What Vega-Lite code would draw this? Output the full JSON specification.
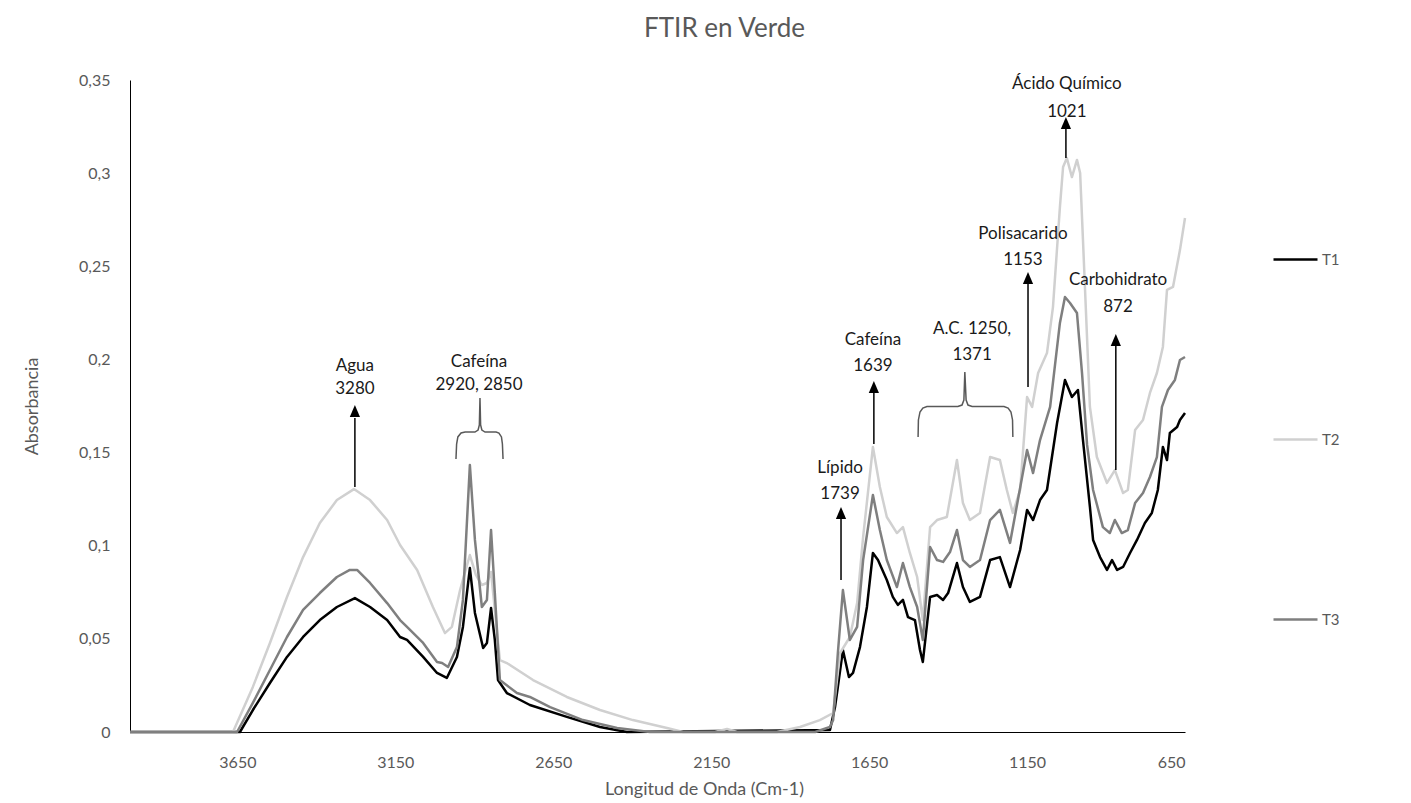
{
  "$schema": "https://vega.github.io/schema/vega-lite/v6.json",
  "width": 1055,
  "height": 652,
  "autosize": {"type": "none"},
  "padding": {"left": 130, "top": 80, "right": 226, "bottom": 71},
  "background": "white",
  "config": {
    "view": {"stroke": null},
    "font": "Lato",
    "text": {"font": "Lato"}
  },
  "title": {
    "text": "FTIR en Verde",
    "fontSize": 26,
    "font": "Lato",
    "fontWeight": "normal",
    "color": "#595959",
    "anchor": "middle",
    "dx": 67,
    "offset": 30
  },
  "datasets": {
    "spectra": [
      {"s":"T1","x":3990,"y":0},{"s":"T1","x":3642,"y":0},{"s":"T1","x":3601,"y":0.0118},{"s":"T1","x":3547,"y":0.0263},{"s":"T1","x":3493,"y":0.0403},{"s":"T1","x":3442,"y":0.051},{"s":"T1","x":3389,"y":0.0601},{"s":"T1","x":3335,"y":0.0671},{"s":"T1","x":3278,"y":0.0719},{"s":"T1","x":3230,"y":0.0671},{"s":"T1","x":3176,"y":0.0601},{"s":"T1","x":3135,"y":0.051},{"s":"T1","x":3113,"y":0.0494},{"s":"T1","x":3062,"y":0.0403},{"s":"T1","x":3018,"y":0.0317},{"s":"T1","x":2987,"y":0.029},{"s":"T1","x":2955,"y":0.0403},{"s":"T1","x":2936,"y":0.0564},{"s":"T1","x":2914,"y":0.088},{"s":"T1","x":2898,"y":0.0639},{"s":"T1","x":2872,"y":0.0451},{"s":"T1","x":2860,"y":0.0478},{"s":"T1","x":2847,"y":0.0666},{"s":"T1","x":2835,"y":0.0494},{"s":"T1","x":2825,"y":0.0279},{"s":"T1","x":2797,"y":0.0209},{"s":"T1","x":2724,"y":0.0145},{"s":"T1","x":2607,"y":0.0081},{"s":"T1","x":2502,"y":0.0027},{"s":"T1","x":2417,"y":0},{"s":"T1","x":1774,"y":0.0011},{"s":"T1","x":1758,"y":0.0134},{"s":"T1","x":1749,"y":0.0242},{"s":"T1","x":1733,"y":0.044},{"s":"T1","x":1714,"y":0.0295},{"s":"T1","x":1701,"y":0.0317},{"s":"T1","x":1679,"y":0.0456},{"s":"T1","x":1657,"y":0.0671},{"s":"T1","x":1638,"y":0.0961},{"s":"T1","x":1622,"y":0.0923},{"s":"T1","x":1594,"y":0.0816},{"s":"T1","x":1575,"y":0.0725},{"s":"T1","x":1559,"y":0.0682},{"s":"T1","x":1543,"y":0.0709},{"s":"T1","x":1527,"y":0.0617},{"s":"T1","x":1505,"y":0.0601},{"s":"T1","x":1489,"y":0.044},{"s":"T1","x":1480,"y":0.0376},{"s":"T1","x":1457,"y":0.0725},{"s":"T1","x":1435,"y":0.0735},{"s":"T1","x":1416,"y":0.0709},{"s":"T1","x":1400,"y":0.0746},{"s":"T1","x":1372,"y":0.0907},{"s":"T1","x":1353,"y":0.0778},{"s":"T1","x":1331,"y":0.0698},{"s":"T1","x":1299,"y":0.0725},{"s":"T1","x":1267,"y":0.0923},{"s":"T1","x":1236,"y":0.0939},{"s":"T1","x":1204,"y":0.0778},{"s":"T1","x":1172,"y":0.0977},{"s":"T1","x":1150,"y":0.1192},{"s":"T1","x":1131,"y":0.1138},{"s":"T1","x":1109,"y":0.1245},{"s":"T1","x":1087,"y":0.1299},{"s":"T1","x":1055,"y":0.1659},{"s":"T1","x":1030,"y":0.189},{"s":"T1","x":1008,"y":0.1798},{"s":"T1","x":989,"y":0.1836},{"s":"T1","x":973,"y":0.1567},{"s":"T1","x":951,"y":0.1208},{"s":"T1","x":941,"y":0.1031},{"s":"T1","x":919,"y":0.0939},{"s":"T1","x":897,"y":0.087},{"s":"T1","x":881,"y":0.0923},{"s":"T1","x":865,"y":0.087},{"s":"T1","x":846,"y":0.0886},{"s":"T1","x":824,"y":0.0961},{"s":"T1","x":802,"y":0.1031},{"s":"T1","x":777,"y":0.1122},{"s":"T1","x":755,"y":0.1176},{"s":"T1","x":736,"y":0.1299},{"s":"T1","x":720,"y":0.153},{"s":"T1","x":707,"y":0.146},{"s":"T1","x":698,"y":0.1605},{"s":"T1","x":675,"y":0.1637},{"s":"T1","x":666,"y":0.1675},{"s":"T1","x":650,"y":0.1712},
      {"s":"T2","x":3990,"y":0},{"s":"T2","x":3664,"y":0},{"s":"T2","x":3601,"y":0.0242},{"s":"T2","x":3547,"y":0.0478},{"s":"T2","x":3493,"y":0.0725},{"s":"T2","x":3442,"y":0.0939},{"s":"T2","x":3389,"y":0.1122},{"s":"T2","x":3335,"y":0.1245},{"s":"T2","x":3281,"y":0.1304},{"s":"T2","x":3230,"y":0.1245},{"s":"T2","x":3176,"y":0.1138},{"s":"T2","x":3135,"y":0.1004},{"s":"T2","x":3081,"y":0.087},{"s":"T2","x":3031,"y":0.0671},{"s":"T2","x":2993,"y":0.0531},{"s":"T2","x":2971,"y":0.0564},{"s":"T2","x":2945,"y":0.0762},{"s":"T2","x":2923,"y":0.0896},{"s":"T2","x":2914,"y":0.095},{"s":"T2","x":2895,"y":0.0843},{"s":"T2","x":2876,"y":0.0789},{"s":"T2","x":2860,"y":0.08},{"s":"T2","x":2847,"y":0.0859},{"s":"T2","x":2835,"y":0.0655},{"s":"T2","x":2819,"y":0.0386},{"s":"T2","x":2797,"y":0.037},{"s":"T2","x":2714,"y":0.0279},{"s":"T2","x":2607,"y":0.0188},{"s":"T2","x":2502,"y":0.0118},{"s":"T2","x":2398,"y":0.0064},{"s":"T2","x":2290,"y":0.0021},{"s":"T2","x":2239,"y":0},{"s":"T2","x":2138,"y":0},{"s":"T2","x":2100,"y":0.0016},{"s":"T2","x":2068,"y":0},{"s":"T2","x":1942,"y":0},{"s":"T2","x":1869,"y":0.0027},{"s":"T2","x":1806,"y":0.0064},{"s":"T2","x":1764,"y":0.0102},{"s":"T2","x":1742,"y":0.0424},{"s":"T2","x":1711,"y":0.051},{"s":"T2","x":1688,"y":0.0692},{"s":"T2","x":1669,"y":0.1047},{"s":"T2","x":1638,"y":0.153},{"s":"T2","x":1616,"y":0.1315},{"s":"T2","x":1594,"y":0.1154},{"s":"T2","x":1562,"y":0.1068},{"s":"T2","x":1543,"y":0.11},{"s":"T2","x":1521,"y":0.0961},{"s":"T2","x":1498,"y":0.0832},{"s":"T2","x":1480,"y":0.0601},{"s":"T2","x":1457,"y":0.11},{"s":"T2","x":1435,"y":0.1138},{"s":"T2","x":1404,"y":0.1154},{"s":"T2","x":1372,"y":0.146},{"s":"T2","x":1353,"y":0.1229},{"s":"T2","x":1331,"y":0.1138},{"s":"T2","x":1299,"y":0.1176},{"s":"T2","x":1267,"y":0.1476},{"s":"T2","x":1236,"y":0.146},{"s":"T2","x":1214,"y":0.1299},{"s":"T2","x":1195,"y":0.1176},{"s":"T2","x":1172,"y":0.1299},{"s":"T2","x":1150,"y":0.1798},{"s":"T2","x":1134,"y":0.1745},{"s":"T2","x":1115,"y":0.1927},{"s":"T2","x":1087,"y":0.2034},{"s":"T2","x":1068,"y":0.2281},{"s":"T2","x":1046,"y":0.2818},{"s":"T2","x":1036,"y":0.3033},{"s":"T2","x":1024,"y":0.3081},{"s":"T2","x":1008,"y":0.2979},{"s":"T2","x":992,"y":0.3071},{"s":"T2","x":982,"y":0.3001},{"s":"T2","x":973,"y":0.2641},{"s":"T2","x":951,"y":0.1745},{"s":"T2","x":929,"y":0.1476},{"s":"T2","x":897,"y":0.1337},{"s":"T2","x":872,"y":0.1406},{"s":"T2","x":846,"y":0.1283},{"s":"T2","x":831,"y":0.1299},{"s":"T2","x":808,"y":0.1621},{"s":"T2","x":783,"y":0.1675},{"s":"T2","x":761,"y":0.182},{"s":"T2","x":739,"y":0.1927},{"s":"T2","x":720,"y":0.2067},{"s":"T2","x":707,"y":0.2373},{"s":"T2","x":688,"y":0.2389},{"s":"T2","x":666,"y":0.2587},{"s":"T2","x":650,"y":0.2759},
      {"s":"T3","x":3990,"y":0},{"s":"T3","x":3651,"y":0},{"s":"T3","x":3601,"y":0.0156},{"s":"T3","x":3547,"y":0.0333},{"s":"T3","x":3493,"y":0.051},{"s":"T3","x":3442,"y":0.0655},{"s":"T3","x":3389,"y":0.0746},{"s":"T3","x":3335,"y":0.0832},{"s":"T3","x":3294,"y":0.087},{"s":"T3","x":3271,"y":0.087},{"s":"T3","x":3230,"y":0.08},{"s":"T3","x":3176,"y":0.0692},{"s":"T3","x":3135,"y":0.0601},{"s":"T3","x":3113,"y":0.0564},{"s":"T3","x":3062,"y":0.0478},{"s":"T3","x":3018,"y":0.0376},{"s":"T3","x":3002,"y":0.037},{"s":"T3","x":2983,"y":0.0349},{"s":"T3","x":2955,"y":0.0456},{"s":"T3","x":2936,"y":0.0709},{"s":"T3","x":2914,"y":0.1433},{"s":"T3","x":2898,"y":0.1031},{"s":"T3","x":2876,"y":0.0671},{"s":"T3","x":2860,"y":0.0709},{"s":"T3","x":2847,"y":0.1084},{"s":"T3","x":2835,"y":0.0746},{"s":"T3","x":2819,"y":0.0279},{"s":"T3","x":2765,"y":0.0209},{"s":"T3","x":2724,"y":0.0188},{"s":"T3","x":2660,"y":0.0134},{"s":"T3","x":2556,"y":0.0064},{"s":"T3","x":2448,"y":0.0021},{"s":"T3","x":2344,"y":0},{"s":"T3","x":1821,"y":0},{"s":"T3","x":1774,"y":0.0027},{"s":"T3","x":1764,"y":0.0064},{"s":"T3","x":1749,"y":0.0424},{"s":"T3","x":1733,"y":0.0762},{"s":"T3","x":1711,"y":0.0494},{"s":"T3","x":1688,"y":0.0564},{"s":"T3","x":1669,"y":0.0923},{"s":"T3","x":1638,"y":0.1272},{"s":"T3","x":1616,"y":0.1084},{"s":"T3","x":1594,"y":0.0923},{"s":"T3","x":1562,"y":0.0778},{"s":"T3","x":1543,"y":0.0907},{"s":"T3","x":1521,"y":0.0778},{"s":"T3","x":1498,"y":0.0671},{"s":"T3","x":1480,"y":0.0494},{"s":"T3","x":1457,"y":0.0993},{"s":"T3","x":1435,"y":0.0923},{"s":"T3","x":1416,"y":0.0913},{"s":"T3","x":1394,"y":0.0966},{"s":"T3","x":1372,"y":0.1084},{"s":"T3","x":1353,"y":0.0923},{"s":"T3","x":1331,"y":0.0886},{"s":"T3","x":1299,"y":0.0923},{"s":"T3","x":1267,"y":0.1138},{"s":"T3","x":1236,"y":0.1192},{"s":"T3","x":1204,"y":0.1015},{"s":"T3","x":1179,"y":0.1245},{"s":"T3","x":1150,"y":0.1514},{"s":"T3","x":1131,"y":0.139},{"s":"T3","x":1109,"y":0.1567},{"s":"T3","x":1077,"y":0.1745},{"s":"T3","x":1046,"y":0.2196},{"s":"T3","x":1030,"y":0.2335},{"s":"T3","x":1014,"y":0.2303},{"s":"T3","x":992,"y":0.2249},{"s":"T3","x":976,"y":0.1927},{"s":"T3","x":960,"y":0.1541},{"s":"T3","x":941,"y":0.1299},{"s":"T3","x":910,"y":0.11},{"s":"T3","x":888,"y":0.1068},{"s":"T3","x":872,"y":0.1138},{"s":"T3","x":850,"y":0.1068},{"s":"T3","x":831,"y":0.1084},{"s":"T3","x":808,"y":0.1229},{"s":"T3","x":783,"y":0.1283},{"s":"T3","x":761,"y":0.1369},{"s":"T3","x":739,"y":0.1476},{"s":"T3","x":723,"y":0.1745},{"s":"T3","x":704,"y":0.1836},{"s":"T3","x":682,"y":0.189},{"s":"T3","x":666,"y":0.1997},{"s":"T3","x":650,"y":0.2013}
    ],
    "braces": [
      {"b":"A","i":1,"x":2958,"y":0.1465},{"b":"A","i":2,"x":2956,"y":0.1546},{"b":"A","i":3,"x":2952,"y":0.1584},{"b":"A","i":4,"x":2942,"y":0.1605},{"b":"A","i":5,"x":2929,"y":0.161},{"b":"A","i":6,"x":2898,"y":0.161},{"b":"A","i":7,"x":2888,"y":0.1621},{"b":"A","i":8,"x":2884,"y":0.1648},{"b":"A","i":9,"x":2882,"y":0.1793},{"b":"A","i":10,"x":2880,"y":0.1648},{"b":"A","i":11,"x":2876,"y":0.1621},{"b":"A","i":12,"x":2866,"y":0.161},{"b":"A","i":13,"x":2831,"y":0.161},{"b":"A","i":14,"x":2822,"y":0.1605},{"b":"A","i":15,"x":2814,"y":0.1584},{"b":"A","i":16,"x":2811,"y":0.1546},{"b":"A","i":17,"x":2809,"y":0.1465},
      {"b":"B","i":1,"x":1495,"y":0.1584},{"b":"B","i":2,"x":1494,"y":0.1675},{"b":"B","i":3,"x":1489,"y":0.1718},{"b":"B","i":4,"x":1480,"y":0.1739},{"b":"B","i":5,"x":1467,"y":0.1747},{"b":"B","i":6,"x":1369,"y":0.1747},{"b":"B","i":7,"x":1356,"y":0.1755},{"b":"B","i":8,"x":1350,"y":0.1782},{"b":"B","i":9,"x":1347,"y":0.1932},{"b":"B","i":10,"x":1343,"y":0.1782},{"b":"B","i":11,"x":1337,"y":0.1755},{"b":"B","i":12,"x":1324,"y":0.1747},{"b":"B","i":13,"x":1223,"y":0.1747},{"b":"B","i":14,"x":1210,"y":0.1739},{"b":"B","i":15,"x":1201,"y":0.1718},{"b":"B","i":16,"x":1196,"y":0.1675},{"b":"B","i":17,"x":1195,"y":0.1584}
    ],
    "arrows": [
      {"x":3278,"y":0.1315,"y2":0.1686,"hy":0.1723},
      {"x":1635,"y":0.1546,"y2":0.183,"hy":0.1852},
      {"x":1739,"y":0.0816,"y2":0.1149,"hy":0.1176},
      {"x":1147,"y":0.1852,"y2":0.2416,"hy":0.2437},
      {"x":1027,"y":0.3081,"y2":0.3253,"hy":0.3269},
      {"x":869,"y":0.1406,"y2":0.2083,"hy":0.2104}
    ],
    "labels": [
      {"t":"Agua","x":3278,"y":0.1965},
      {"t":"3280","x":3278,"y":0.1841},
      {"t":"Cafeína","x":2885,"y":0.1986},
      {"t":"2920, 2850","x":2885,"y":0.1863},
      {"t":"Lípido","x":1742,"y":0.1417},
      {"t":"1739","x":1742,"y":0.1278},
      {"t":"Cafeína","x":1638,"y":0.2104},
      {"t":"1639","x":1638,"y":0.1965},
      {"t":"A.C. 1250,","x":1324,"y":0.2163},
      {"t":"1371","x":1324,"y":0.2024},
      {"t":"Polisacarido","x":1163,"y":0.2673},
      {"t":"1153","x":1163,"y":0.2534},
      {"t":"Ácido Químico","x":1024,"y":0.3478},
      {"t":"1021","x":1024,"y":0.3328},
      {"t":"Carbohidrato","x":862,"y":0.2426},
      {"t":"872","x":862,"y":0.2281}
    ]
  },
  "encoding": {
    "x": {
      "field": "x",
      "type": "quantitative",
      "scale": {"domain": [650, 3990], "reverse": true, "nice": false, "zero": false},
      "axis": {
        "title": "Longitud de Onda (Cm-1)",
        "values": [3650, 3150, 2650, 2150, 1650, 1150, 650],
        "format": "d",
        "grid": false,
        "ticks": false,
        "domainColor": "#000000",
        "domainWidth": 1,
        "labelFont": "Lato",
        "labelFontSize": 16,
        "labelColor": "#595959",
        "labelPadding": 22,
        "titleFont": "Lato",
        "titleFontSize": 18,
        "titleFontWeight": "normal",
        "titleColor": "#595959",
        "titleX": 574,
        "titleY": 57,
        "titleAlign": "center",
        "titleBaseline": "middle"
      }
    },
    "y": {
      "field": "y",
      "type": "quantitative",
      "scale": {"domain": [0, 0.35], "nice": false},
      "axis": {
        "title": "Absorbancia",
        "values": [0, 0.05, 0.1, 0.15, 0.2, 0.25, 0.3, 0.35],
        "labelExpr": "replace(format(datum.value, '.2~f'), '.', ',')",
        "grid": false,
        "ticks": false,
        "domainColor": "#000000",
        "domainWidth": 1,
        "labelFont": "Lato",
        "labelFontSize": 16,
        "labelColor": "#595959",
        "labelPadding": 20,
        "titleFont": "Lato",
        "titleFontSize": 18,
        "titleFontWeight": "normal",
        "titleColor": "#595959",
        "titleX": -98,
        "titleY": 326,
        "titleAngle": -90,
        "titleAlign": "center",
        "titleBaseline": "middle"
      }
    }
  },
  "layer": [
    {
      "data": {"name": "spectra"},
      "mark": {"type": "line", "strokeWidth": 2.5, "strokeJoin": "round"},
      "encoding": {
        "color": {
          "field": "s",
          "type": "nominal",
          "scale": {"domain": ["T1", "T2", "T3"], "range": ["#000000", "#d0d0d0", "#7f7f7f"]},
          "legend": {
            "orient": "none",
            "legendX": 1142,
            "legendY": 156,
            "title": null,
            "symbolType": "stroke",
            "symbolSize": 1936,
            "symbolStrokeWidth": 2.5,
            "rowPadding": 148,
            "labelFont": "Lato",
            "labelFontSize": 15,
            "labelColor": "#595959",
            "labelOffset": 3,
            "padding": 0
          }
        }
      }
    },
    {
      "data": {"name": "braces"},
      "mark": {"type": "line", "color": "#595959", "strokeWidth": 1.5},
      "encoding": {
        "detail": {"field": "b", "type": "nominal"},
        "order": {"field": "i", "type": "quantitative"}
      }
    },
    {
      "data": {"name": "arrows"},
      "mark": {"type": "rule", "color": "#000000", "strokeWidth": 1.5},
      "encoding": {
        "y2": {"field": "y2"}
      }
    },
    {
      "data": {"name": "arrows"},
      "mark": {"type": "point", "shape": "M-0.85,1L0.85,1L0,-1Z", "filled": true, "color": "#000000", "opacity": 1, "size": 144},
      "encoding": {
        "y": {"field": "hy", "type": "quantitative"}
      }
    },
    {
      "data": {"name": "labels"},
      "mark": {"type": "text", "font": "Lato", "fontSize": 17, "color": "#1a1a1a", "align": "center", "baseline": "middle"},
      "encoding": {
        "text": {"field": "t", "type": "nominal"}
      }
    }
  ]
}
